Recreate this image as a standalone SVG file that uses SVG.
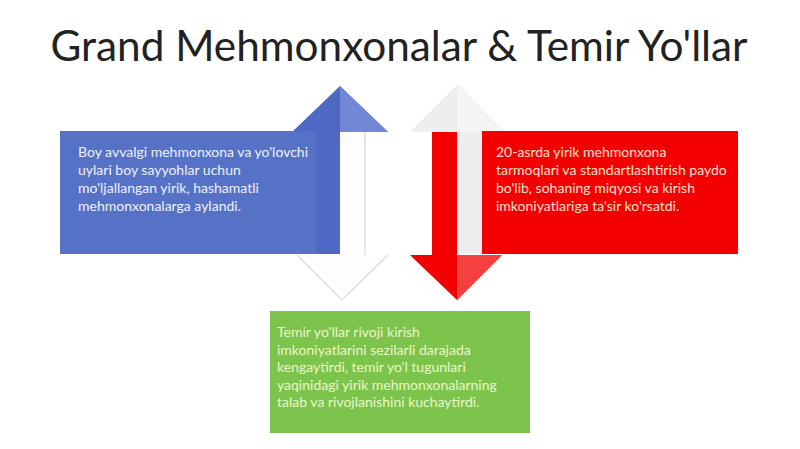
<svg xmlns="http://www.w3.org/2000/svg" width="800" height="449" viewBox="0 0 800 449">
<style>
.title{font-family:Lato,"Open Sans","Liberation Sans",sans-serif;font-size:42.3px;fill:#222;}
.t{font-family:Lato,"Open Sans","Liberation Sans",sans-serif;font-size:14px;}
.tb{fill:#eef1ff;}
.tr{fill:#ffe0d0;}
.tg{fill:#eaf7c8;}
</style>
<rect width="800" height="449" fill="#ffffff"/>
<text class="title" x="399" y="61" text-anchor="middle">Grand Mehmonxonalar &amp; Temir Yo'llar</text>

<g id="arrows-left">
  <!-- white down arrow -->
  <polygon points="340,132 365,132 365,255 388,255 342,300 297,255 340,255" fill="#fdfdfd"/>
  <polyline points="365,132 365,255" fill="none" stroke="#d0d0d0" stroke-width="1"/>
  <polyline points="297,255 342,300 388,255" fill="none" stroke="#dadada" stroke-width="1.2"/>
  <!-- blue up arrow -->
  <polygon points="315,254 315,132 292,132 340,86 388,132 340,132 340,254" fill="#4e68c4"/>
  <polygon points="340,86 388,132 340,132" fill="#7088d6"/>
</g>

<g id="arrows-right">
  <!-- light up arrow -->
  <polygon points="457,254 457,132 410,132 458,84 505,132 482,132 482,254" fill="#eeeeee"/>
  <polygon points="458,84 505,132 458,132" fill="#f5f5f5"/>
  <!-- red down arrow -->
  <polygon points="432,132 457,132 457,255 502,255 457,300 410,255 432,255" fill="#f50000"/>
  <polygon points="457,255 502,255 457,300" fill="#f54040"/>
</g>

<g id="node-blue">
  <rect x="60" y="131" width="256" height="123" fill="#5672c6"/>
  <text class="t tb" x="78" y="157">Boy avvalgi mehmonxona va yo'lovchi</text>
  <text class="t tb" x="78" y="175">uylari boy sayyohlar uchun</text>
  <text class="t tb" x="78" y="193">mo'ljallangan yirik, hashamatli</text>
  <text class="t tb" x="78" y="211">mehmonxonalarga aylandi.</text>
</g>

<g id="node-red">
  <rect x="482" y="131" width="256" height="123" fill="#f50000"/>
  <text class="t tr" x="496" y="157">20-asrda yirik mehmonxona</text>
  <text class="t tr" x="496" y="175">tarmoqlari va standartlashtirish paydo</text>
  <text class="t tr" x="496" y="193">bo'lib, sohaning miqyosi va kirish</text>
  <text class="t tr" x="496" y="211">imkoniyatlariga ta'sir ko'rsatdi.</text>
</g>

<g id="node-green">
  <rect x="270" y="311" width="260" height="122" fill="#7dc44c"/>
  <text class="t tg" x="277" y="337">Temir yo'llar rivoji kirish</text>
  <text class="t tg" x="277" y="354.5">imkoniyatlarini sezilarli darajada</text>
  <text class="t tg" x="277" y="372">kengaytirdi, temir yo'l tugunlari</text>
  <text class="t tg" x="277" y="389.5">yaqinidagi yirik mehmonxonalarning</text>
  <text class="t tg" x="277" y="407">talab va rivojlanishini kuchaytirdi.</text>
</g>
</svg>
